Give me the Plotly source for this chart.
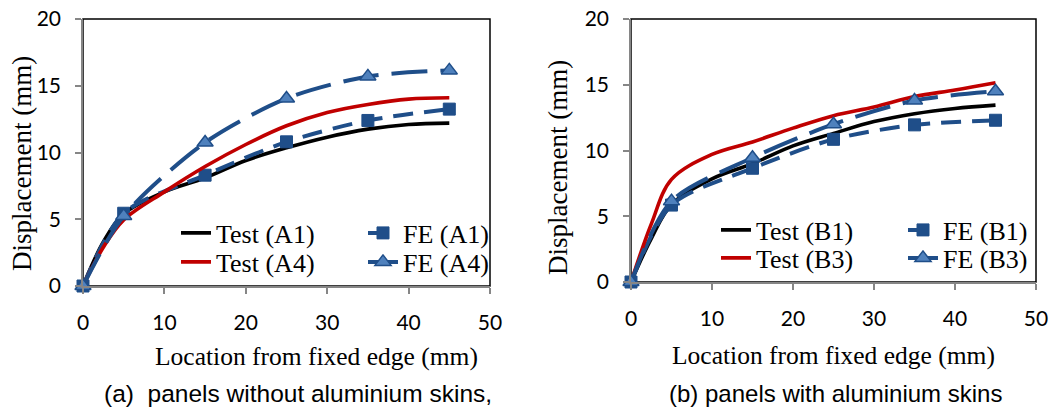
import plotly.graph_objects as go

# ---------------- data ----------------
x_test = [0, 2.5, 5, 10, 15, 20, 25, 30, 35, 40, 45]
x_fe = [0, 5, 15, 25, 35, 45]

test_a1 = [0, 3.3, 5.4, 7.05, 8.1, 9.4, 10.35, 11.15, 11.75, 12.1, 12.2]
test_a4 = [0, 2.9, 4.95, 7.05, 8.95, 10.6, 12.0, 13.0, 13.6, 14.0, 14.1]
fe_a1 = [0, 5.45, 8.3, 10.8, 12.4, 13.25]
fe_a4 = [0, 5.25, 10.75, 14.05, 15.7, 16.15]

test_b1 = [0, 3.3, 5.9, 7.85, 9.0, 10.35, 11.3, 12.2, 12.8, 13.2, 13.45]
test_b3 = [0, 4.4, 7.8, 9.7, 10.65, 11.7, 12.65, 13.3, 14.1, 14.6, 15.15]
fe_b1 = [0, 5.85, 8.65, 10.85, 11.95, 12.3]
fe_b3 = [0, 6.15, 9.45, 12.0, 13.8, 14.5]

x_ticks = [0, 10, 20, 30, 40, 50]
y_ticks = [0, 5, 10, 15, 20]

# ---------------- styles ----------------
BLUE = "#1F4E89"
LIGHT = "#4F81BD"
RED = "#C00000"
SERIF = "Liberation Serif"
SANS_TICK = "Lato"
SANS_CAP = "Liberation Sans"

W, H = 1064, 412

fig = go.Figure()


def add_panel(xa, ya, t1, t2, f1, f2, names, lgs):
    fig.add_trace(go.Scatter(x=x_test, y=t1, mode="lines", name=names[0],
                             line=dict(color="black", width=3.6, shape="spline", smoothing=1.0),
                             xaxis=xa, yaxis=ya, legend=lgs[0]))
    fig.add_trace(go.Scatter(x=x_fe, y=f1, mode="lines+markers", name=names[1],
                             line=dict(color=BLUE, width=4, dash="20px,11px",
                                       shape="spline", smoothing=0.8),
                             marker=dict(symbol="square", size=12, color=BLUE,
                                         line=dict(color=BLUE, width=1)),
                             cliponaxis=False, xaxis=xa, yaxis=ya, legend=lgs[1]))
    fig.add_trace(go.Scatter(x=x_test, y=t2, mode="lines", name=names[2],
                             line=dict(color=RED, width=3.6, shape="spline", smoothing=1.0),
                             xaxis=xa, yaxis=ya, legend=lgs[2]))
    fig.add_trace(go.Scatter(x=x_fe, y=f2, mode="lines+markers", name=names[3],
                             line=dict(color=BLUE, width=4, dash="36px,13px",
                                       shape="spline", smoothing=0.8),
                             marker=dict(symbol="triangle-up", size=14, color=LIGHT,
                                         line=dict(color=BLUE, width=1.5)),
                             cliponaxis=False, xaxis=xa, yaxis=ya, legend=lgs[3]))


add_panel("x", "y", test_a1, test_a4, fe_a1, fe_a4,
          ["Test (A1)", "FE (A1)", "Test (A4)", "FE (A4)"],
          ["legend", "legend2", "legend3", "legend4"])
add_panel("x2", "y2", test_b1, test_b3, fe_b1, fe_b3,
          ["Test (B1)", "FE (B1)", "Test (B3)", "FE (B3)"],
          ["legend5", "legend6", "legend7", "legend8"])


def px_x(p):
    return p / W


def px_y(p):
    return 1 - p / H


axis_common = dict(showgrid=False, zeroline=False, showline=True, linecolor="#868686",
                   linewidth=1.5, ticks="outside", ticklen=6, tickcolor="#868686",
                   tickwidth=1.5, automargin=False,
                   tickfont=dict(family=SANS_TICK, size=21, color="black"))

xa = dict(axis_common, range=[0, 50], tickvals=x_ticks, ticklabelstandoff=11)
ya = dict(axis_common, range=[0, 20], tickvals=y_ticks, ticklabelstandoff=10)

leg_common = dict(orientation="v", bgcolor="rgba(0,0,0,0)", borderwidth=0,
                  font=dict(family=SERIF, size=26, color="black"),
                  xanchor="left", yanchor="middle", itemclick=False)

# legend item positions: (text start px, row centre px)
leg_pos = {
    "legend": (216, 233), "legend2": (403, 233), "legend3": (216, 262), "legend4": (403, 262),
    "legend5": (756, 230), "legend6": (943, 230), "legend7": (756, 258), "legend8": (943, 258),
}
legends = {k: dict(leg_common, x=px_x(tx - 40), y=px_y(ty)) for k, (tx, ty) in leg_pos.items()}

fig.update_layout(
    width=W, height=H, margin=dict(l=0, r=0, t=0, b=0, autoexpand=False),
    paper_bgcolor="white", plot_bgcolor="white", showlegend=True,
    xaxis=dict(xa, domain=[px_x(83), px_x(490)], anchor="y"),
    yaxis=dict(ya, domain=[px_y(286), px_y(19)], anchor="x"),
    xaxis2=dict(xa, domain=[px_x(631), px_x(1036)], anchor="y2"),
    yaxis2=dict(ya, domain=[px_y(282), px_y(19)], anchor="x2"),
    **legends,
)

# plot-area frame (top and right black border)
for xr, yr in [("x domain", "y domain"), ("x2 domain", "y2 domain")]:
    fig.add_shape(type="rect", xref=xr, yref=yr, x0=0, x1=1, y0=0, y1=1,
                  line=dict(color="black", width=1.5), layer="below")

NB = "\u00a0"
ann = [
    dict(text="Displacement (mm)", x=px_x(22), y=px_y(164), textangle=-90,
         font=dict(family=SERIF, size=27)),
    dict(text="Location from fixed edge (mm)", x=px_x(316), y=px_y(356),
         font=dict(family=SERIF, size=25.5)),
    dict(text="(a)" + NB + NB + "panels without aluminium skins,", x=px_x(298), y=px_y(393),
         font=dict(family=SANS_CAP, size=24.5)),
    dict(text="Displacement (mm)", x=px_x(558), y=px_y(168), textangle=-90,
         font=dict(family=SERIF, size=27)),
    dict(text="Location from fixed edge (mm)", x=px_x(833), y=px_y(355),
         font=dict(family=SERIF, size=25.5)),
    dict(text="(b) panels with aluminium skins", x=px_x(835), y=px_y(393),
         font=dict(family=SANS_CAP, size=24)),
]
for a in ann:
    a["font"]["color"] = "black"
    fig.add_annotation(xref="paper", yref="paper", showarrow=False,
                       xanchor="center", yanchor="middle", **a)

fig.write_html("out.html")
